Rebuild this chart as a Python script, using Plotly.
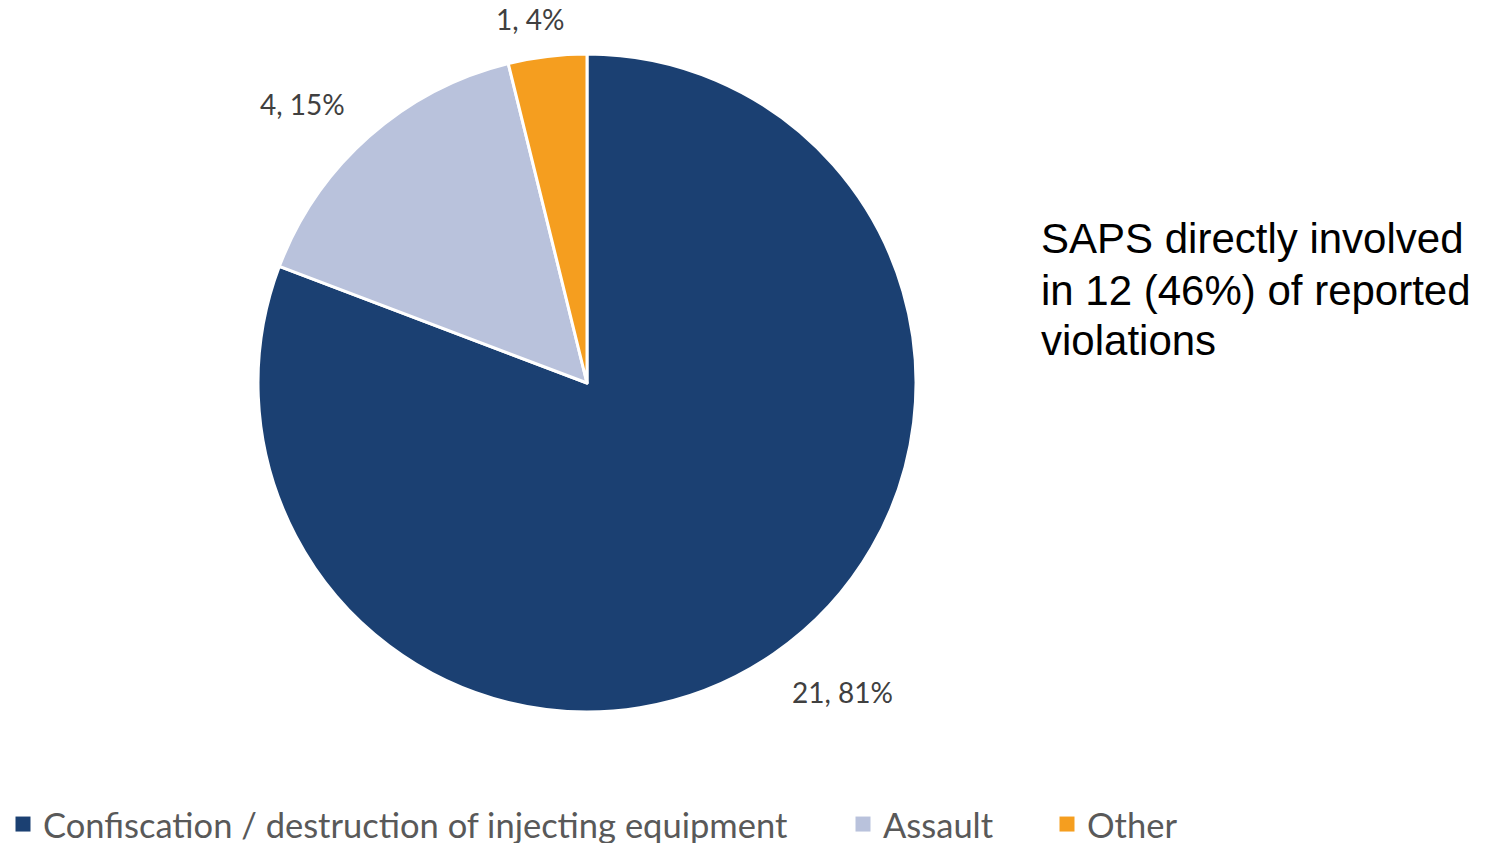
import math
import plotly.graph_objects as go

categories = ["Confiscation / destruction of injecting equipment", "Assault", "Other"]
counts = [21, 4, 1]
colors = ["#1B4072", "#B9C2DC", "#F59E1F"]
note_lines = ["SAPS directly involved", "in 12 (46%) of reported", "violations"]

total = sum(counts)
labels_text = [f"{v}, {round(100 * v / total)}%" for v in counts]

W, H = 1493, 843
cx, cy, r = 587, 383, 329

# label placement: distance from centre (in radii) and small angular nudge (deg)
label_dist = [1.22, 1.21, 1.12]
label_nudge = [-5.0, -4.0, -2.0]

# left edge (px) of each legend entry
legend_left = [3, 843, 1047]

fig = go.Figure(
    go.Pie(
        labels=categories,
        values=counts,
        textinfo="none",
        marker=dict(colors=colors, line=dict(color="white", width=3)),
        sort=False,
        direction="clockwise",
        rotation=0,
        showlegend=False,
        hoverinfo="label+value+percent",
        domain=dict(x=[(cx - r) / W, (cx + r) / W], y=[1 - (cy + r) / H, 1 - (cy - r) / H]),
    )
)

# data labels at each slice's mid-angle (clockwise from 12 o'clock)
cum = 0
for v, txt, k, nudge in zip(counts, labels_text, label_dist, label_nudge):
    mid = (cum + v / 2) / total * 360 + nudge
    cum += v
    a = math.radians(mid)
    px = cx + k * r * math.sin(a)
    py = cy - k * r * math.cos(a)
    fig.add_annotation(
        text=txt, xref="paper", yref="paper",
        x=px / W, y=1 - py / H, xanchor="center", yanchor="middle",
        showarrow=False,
        font=dict(family="Lato", size=28, color="#404040"),
    )

# legend entries, one legend box per category
legend_names = ["legend", "legend2", "legend3"]
legend_style = dict(
    orientation="h", y=-0.012, xanchor="left", yanchor="bottom",
    font=dict(family="Lato", size=34.5, color="#595959"),
    itemwidth=30, bgcolor="rgba(0,0,0,0)",
)
for name, c, lg, left in zip(categories, colors, legend_names, legend_left):
    fig.add_trace(go.Scatter(
        x=[None], y=[None], mode="markers", name=name, legend=lg,
        marker=dict(symbol="square", size=15, color=c),
        hoverinfo="skip",
    ))
    fig.update_layout({lg: dict(x=left / W, **legend_style)})

# side note
for i, line in enumerate(note_lines):
    fig.add_annotation(
        text=line,
        xref="paper", yref="paper",
        x=1039 / W, y=1 - (239 + 51 * i) / H,
        xanchor="left", yanchor="middle",
        align="left", showarrow=False,
        font=dict(family="Arial", size=42, color="#000000"),
    )

fig.update_layout(
    width=W, height=H,
    margin=dict(l=0, r=0, t=0, b=0, autoexpand=False),
    paper_bgcolor="white", plot_bgcolor="white",
    xaxis=dict(visible=False), yaxis=dict(visible=False),
    showlegend=True,
)

fig.write_html("out.html")
